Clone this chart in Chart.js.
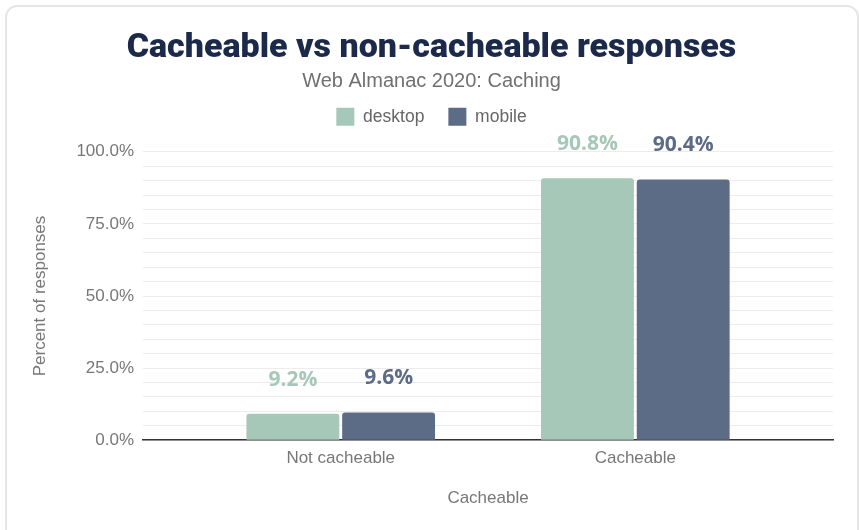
<!DOCTYPE html>
<html>
<head>
<meta charset="utf-8">
<script src="https://cdn.jsdelivr.net/npm/chart.js@4.4.1/dist/chart.umd.min.js"></script>
<style>
  html, body { margin: 0; padding: 0; background: #fff; }
  #wrap { position: relative; width: 859px; height: 530px; overflow: hidden; }
  #frame { position: absolute; left: 5px; top: 5px; width: 854px; height: 540px;
           border: 2px solid #e6e6e6; border-radius: 12px; box-sizing: border-box; }
  canvas { position: absolute; left: 0; top: 0; }
</style>
</head>
<body>
<div id="wrap">
  <div id="frame"></div>
  <canvas id="c" width="859" height="530"></canvas>
</div>
<script>
const categories = ['Not cacheable', 'Cacheable'];
const seriesNames = ['desktop', 'mobile'];
const desktop = [9.2, 90.8];
const mobile = [9.6, 90.4];
const yTicks = [0, 25, 50, 75, 100];
const colors = ['#a6c8b8', '#5c6b86'];

const FONT = '"Liberation Sans", Arial, sans-serif';

const dataLabels = {
  id: 'dataLabels',
  afterDatasetsDraw(chart) {
    const ctx = chart.ctx;
    ctx.save();
    ctx.font = 'bold 21px "Open Sans"';
    ctx.textAlign = 'center';
    ctx.textBaseline = 'middle';
    chart.data.datasets.forEach((ds, i) => {
      const meta = chart.getDatasetMeta(i);
      ctx.fillStyle = ds.backgroundColor;
      meta.data.forEach((bar, j) => {
        const v = ds.data[j].y;
        ctx.fillText(v.toFixed(1) + '%', bar.x, bar.y - 34);
      });
    });
    ctx.restore();
  }
};

// empty layout box to leave space between the legend and the plot
const spacer = {
  id: 'spacer',
  beforeInit(chart) {
    const box = {
      id: 'spacerBox', position: 'top', weight: 500, fullSize: true,
      options: {},
      left: 0, top: 0, right: 0, bottom: 0, width: 0, height: 0,
      isHorizontal() { return true; },
      update(maxWidth) { this.width = maxWidth; this.height = 16; },
      draw() {}
    };
    Chart.layouts.addBox(chart, box);
  }
};

new Chart(document.getElementById('c'), {
  type: 'bar',
  data: {
    datasets: [
      { label: seriesNames[0], data: desktop.map((v, i) => ({ x: i + 1, y: v })), backgroundColor: colors[0], borderRadius: 3, borderSkipped: 'bottom' },
      { label: seriesNames[1], data: mobile.map((v, i) => ({ x: i + 1, y: v })), backgroundColor: colors[1], borderRadius: 3, borderSkipped: 'bottom' }
    ]
  },
  plugins: [spacer, dataLabels],
  options: {
    responsive: false,
    animation: false,
    devicePixelRatio: 1,
    barPercentage: 0.97,
    categoryPercentage: 0.65,
    layout: { padding: { left: 30, right: 26, top: 0, bottom: 21 } },
    plugins: {
      title: {
        display: true,
        text: 'Cacheable vs non-cacheable responses',
        color: '#1b2a4a',
        font: { family: 'Roboto', size: 34, weight: '900' },
        padding: { top: 28, bottom: 1 }
      },
      subtitle: {
        display: true,
        text: 'Web Almanac 2020: Caching',
        color: '#707070',
        font: { family: FONT, size: 20 },
        padding: { top: 0, bottom: -10 }
      },
      legend: {
        display: true,
        labels: {
          boxWidth: 18, boxHeight: 18, padding: 24,
          color: '#666',
          font: { family: FONT, size: 17.5 }
        }
      },
      tooltip: { enabled: false }
    },
    scales: {
      x: {
        type: 'linear',
        min: 0.329, max: 2.671,
        offset: false,
        afterBuildTicks(scale) { scale.ticks = categories.map((c, i) => ({ value: i + 1 })); },
        ticks: {
          callback: (v) => categories[Math.round(v) - 1] || '',
          color: '#777',
          font: { family: FONT, size: 17 },
          padding: 8,
          maxRotation: 0,
          autoSkip: false
        },
        grid: { display: false, drawTicks: false },
        border: { display: true, color: '#333', width: 1.5 },
        title: {
          display: true, text: 'Cacheable', color: '#777',
          font: { family: FONT, size: 17 },
          padding: { top: 12, bottom: 0 }
        }
      },
      y: {
        min: 0, max: 100,
        ticks: {
          stepSize: 5,
          autoSkip: false,
          callback: (v) => yTicks.includes(v) ? v.toFixed(1) + '%' : '',
          color: '#777',
          font: { family: FONT, size: 17 },
          padding: 9
        },
        grid: { color: '#ececec', lineWidth: 1, drawTicks: false },
        border: { display: false },
        title: {
          display: true, text: 'Percent of responses', color: '#777',
          font: { family: FONT, size: 17 },
          padding: { top: 0, bottom: 17 }
        }
      }
    }
  }
});
</script>
</body>
</html>
